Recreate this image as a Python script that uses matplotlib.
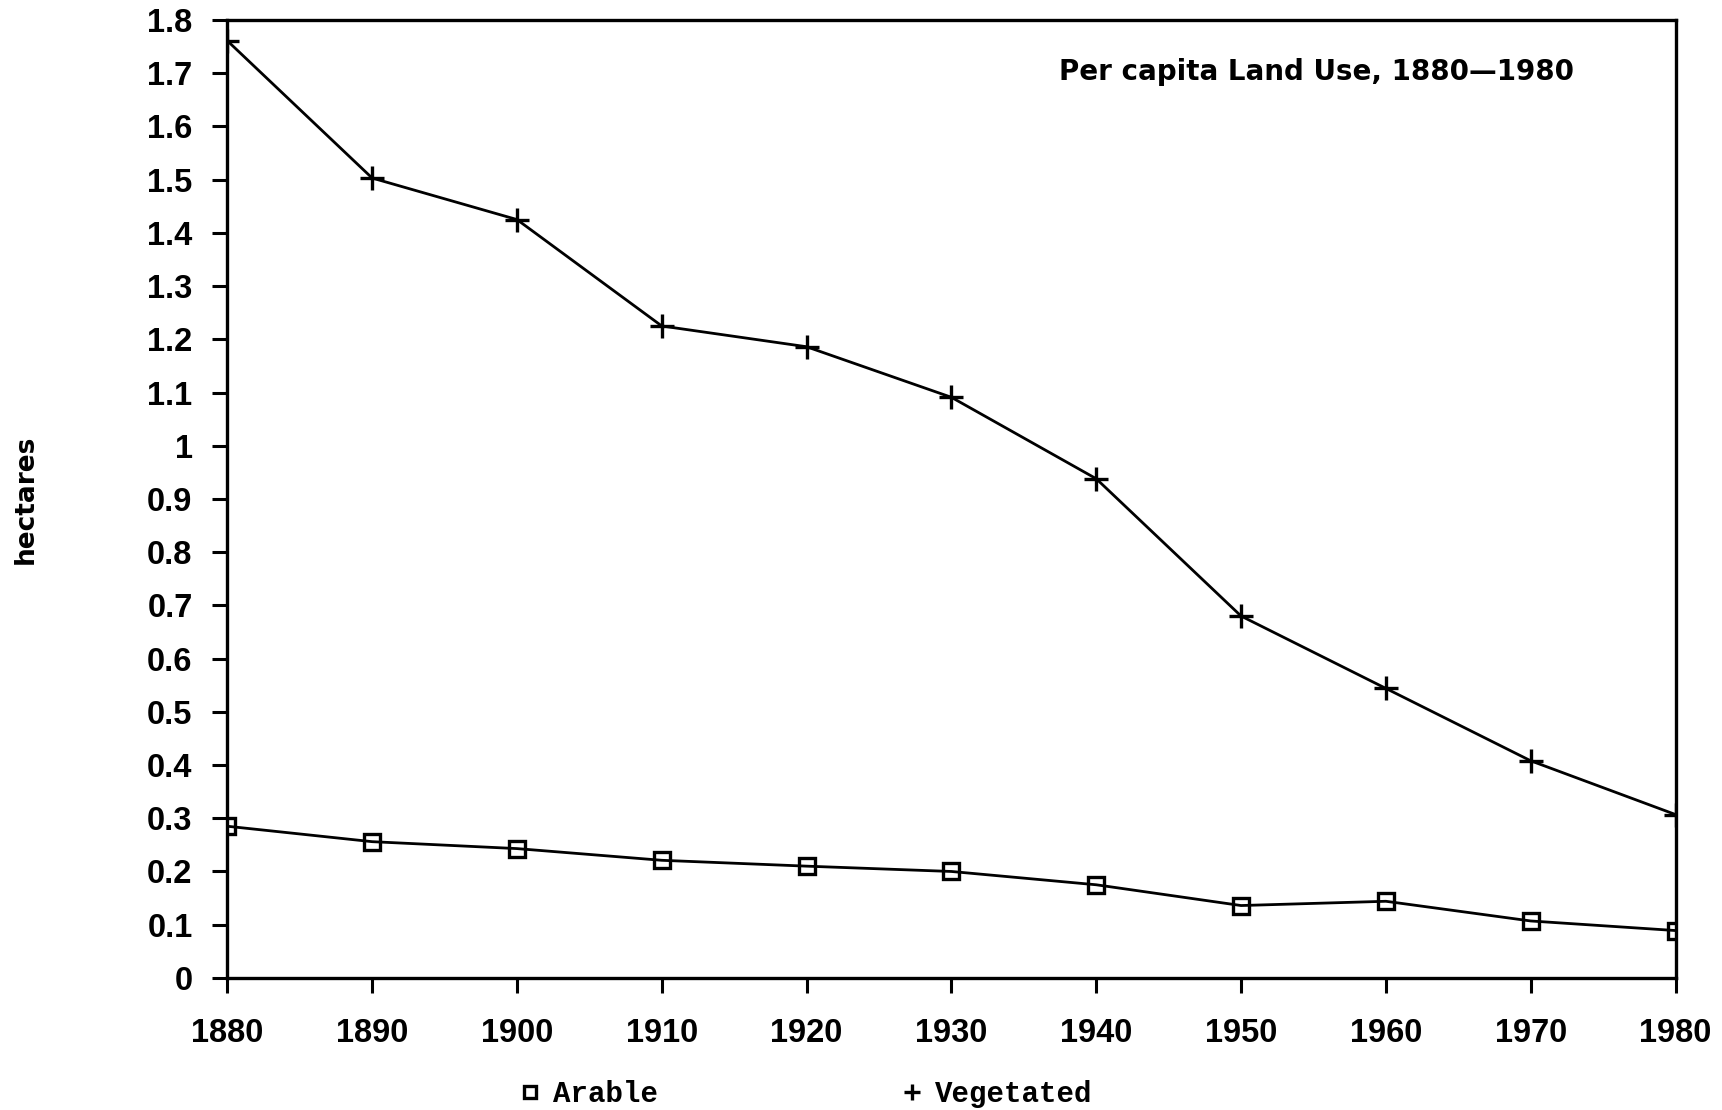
"""
Per capita land use, 1880-1980 (arable vs vegetated), redrawn from a scanned chart.
"""

import matplotlib
matplotlib.use("Agg")
import matplotlib.pyplot as plt
from matplotlib.ticker import FuncFormatter, MultipleLocator

# ── Data ──────────────────────────────────────────────────────────────────────

years = [1880, 1890, 1900, 1910, 1920, 1930, 1940, 1950, 1960, 1970, 1980]
arable = [0.285, 0.256, 0.243, 0.221, 0.210, 0.200, 0.175, 0.136, 0.144, 0.107, 0.089]
vegetated = [1.761, 1.503, 1.425, 1.225, 1.186, 1.091, 0.938, 0.680, 0.544, 0.408, 0.307]

title = "Per capita Land Use, 1880\u20141980"
y_label = "hectares"
series_names = ["Arable", "Vegetated"]

# ── Figure ────────────────────────────────────────────────────────────────────

fig = plt.figure(figsize=(17.22, 11.10), dpi=100)
ax = fig.add_axes([0.132, 0.119, 0.841, 0.863])

line_kw = dict(color="black", linewidth=2.0, markerfacecolor="none",
               markeredgecolor="black", markeredgewidth=2.4)
h_ar, = ax.plot(years, arable, marker="s", markersize=12, label=series_names[0], **line_kw)
h_vg, = ax.plot(years, vegetated, marker="+", markersize=17, label=series_names[1], **line_kw)

ax.set_xlim(1880, 1980)
ax.set_ylim(0, 1.8)
ax.xaxis.set_major_locator(MultipleLocator(10))
ax.yaxis.set_major_locator(MultipleLocator(0.1))
ax.yaxis.set_major_formatter(FuncFormatter(lambda v, _: f"{v:g}"))

for lab in ax.get_xticklabels() + ax.get_yticklabels():
    lab.set_fontfamily("Liberation Sans")
    lab.set_fontweight("bold")
    lab.set_fontsize(23.5)

ax.tick_params(axis="both", direction="out", length=11, width=2.2)
ax.tick_params(axis="x", pad=18)
ax.tick_params(axis="y", pad=14)
for sp in ax.spines.values():
    sp.set_linewidth(2.4)

ax.text(0.93, 0.946, title, transform=ax.transAxes, ha="right", va="center",
        family="DejaVu Sans", fontsize=20, fontweight="bold")

fig.text(0.015, 0.55, y_label, rotation=90, ha="center", va="center",
         family="DejaVu Sans", fontsize=19, fontweight="bold")

fig.legend(handles=[h_ar, h_vg], loc="center", bbox_to_anchor=(0.471, 0.014),
           ncol=2, frameon=False, handlelength=0, handletextpad=0.8,
           columnspacing=8.7, markerscale=0.7,
           prop=dict(family="Liberation Mono", weight="bold", size=21))

fig.savefig("out.png", dpi=100)
